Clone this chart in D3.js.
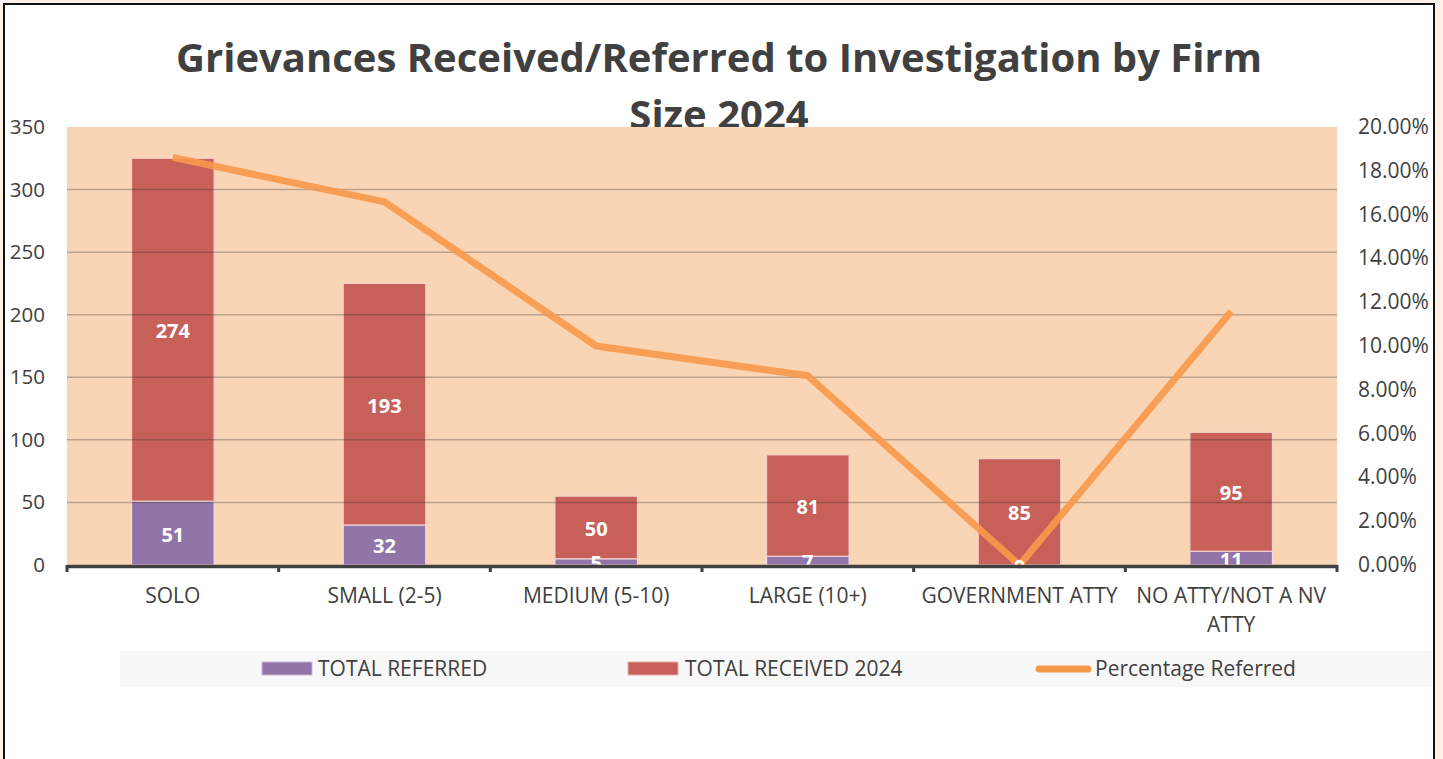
<!DOCTYPE html>
<html>
<head>
<meta charset="utf-8">
<script src="https://cdn.jsdelivr.net/npm/d3@7"></script>
<style>
  html, body { margin: 0; padding: 0; background: #fdf0e6; }
  svg { display: block; font-family: "Open Sans", sans-serif; }
</style>
</head>
<body>
<div id="chart"></div>
<script>
// data
var categories = ["SOLO", "SMALL (2-5)", "MEDIUM (5-10)", "LARGE (10+)", "GOVERNMENT ATTY", "NO ATTY/NOT A NV ATTY"];
var categoryLines = [["SOLO"], ["SMALL (2-5)"], ["MEDIUM (5-10)"], ["LARGE (10+)"], ["GOVERNMENT ATTY"], ["NO ATTY/NOT A NV", "ATTY"]];
var totalReferred = [51, 32, 5, 7, 0, 11];
var totalReceived = [274, 193, 50, 81, 85, 95];
var percentReferred = [0.1861, 0.1658, 0.10, 0.0864, 0, 0.1158];
var leftTicks = [0, 50, 100, 150, 200, 250, 300, 350];
var rightTicks = [0, 0.02, 0.04, 0.06, 0.08, 0.10, 0.12, 0.14, 0.16, 0.18, 0.20];

var W = 1443, H = 759;
var plot = { left: 67, right: 1337, top: 127, bottom: 565 };
var textColor = "#404040";
var purple = "#9174a8", red = "#c8605a", orange = "#f7994a";

var svg = d3.select("#chart").append("svg")
    .attr("width", W).attr("height", H);

// frame
svg.append("rect").attr("width", W).attr("height", H).attr("fill", "#fdf0e6");
svg.append("rect")
    .attr("x", 4).attr("y", 4).attr("width", 1430).attr("height", 800)
    .attr("fill", "#fff").attr("stroke", "#111").attr("stroke-width", 2);

var x = d3.scaleBand().domain(categories).range([plot.left, plot.right]).padding(0);
var y = d3.scaleLinear().domain([0, 350]).range([plot.bottom, plot.top]);
var yR = d3.scaleLinear().domain([0, 0.2]).range([plot.bottom, plot.top]);
var barW = x.bandwidth() * 0.39;

// title
var title = svg.append("text")
    .attr("text-anchor", "middle")
    .attr("font-size", 40).attr("font-weight", 700).attr("fill", textColor);
title.append("tspan").attr("x", 719).attr("y", 72).text("Grievances Received/Referred to Investigation by Firm");
title.append("tspan").attr("x", 719).attr("y", 129).text("Size 2024");

// plot background
svg.append("rect")
    .attr("x", plot.left).attr("y", plot.top)
    .attr("width", plot.right - plot.left).attr("height", plot.bottom - plot.top)
    .attr("fill", "#fad5b5");

// stacked bars
var bars = svg.append("g");
categories.forEach(function (c, i) {
    var bx = x(c) + x.bandwidth() / 2 - barW / 2;
    bars.append("rect")
        .attr("x", bx).attr("width", barW)
        .attr("y", y(totalReferred[i])).attr("height", y(0) - y(totalReferred[i]))
        .attr("fill", purple).attr("stroke", "#f3d9e0").attr("stroke-width", 1.2);
    bars.append("rect")
        .attr("x", bx).attr("width", barW)
        .attr("y", y(totalReferred[i] + totalReceived[i]))
        .attr("height", y(totalReferred[i]) - y(totalReferred[i] + totalReceived[i]))
        .attr("fill", red).attr("stroke", "#f3d0c8").attr("stroke-width", 1.2);
});

// gridlines (drawn over the bars, faint)
svg.append("g")
    .selectAll("line")
    .data(leftTicks.filter(function (d) { return d > 0 && d < 350; }))
    .join("line")
    .attr("x1", plot.left).attr("x2", plot.right)
    .attr("y1", function (d) { return y(d); }).attr("y2", function (d) { return y(d); })
    .attr("stroke", "#303030").attr("stroke-opacity", 0.3).attr("stroke-width", 1.5);

// percentage line
var line = d3.line()
    .x(function (d, i) { return x(categories[i]) + x.bandwidth() / 2; })
    .y(function (d) { return yR(d); });
svg.append("path")
    .datum(percentReferred)
    .attr("d", line)
    .attr("fill", "none").attr("stroke", orange).attr("stroke-opacity", 0.9)
    .attr("stroke-width", 7).attr("stroke-linejoin", "round");

// data labels
var labels = svg.append("g")
    .attr("text-anchor", "middle").attr("font-size", 20).attr("font-weight", 700)
    .attr("fill", "#fff").attr("dominant-baseline", "central");
categories.forEach(function (c, i) {
    var cx = x(c) + x.bandwidth() / 2;
    labels.append("text").attr("x", cx)
        .attr("y", (y(0) + y(totalReferred[i])) / 2 + 1)
        .text(totalReferred[i]);
    labels.append("text").attr("x", cx)
        .attr("y", (y(totalReferred[i]) + y(totalReferred[i] + totalReceived[i])) / 2 + 1)
        .text(totalReceived[i]);
});

// x axis line and ticks
var xAxis = d3.axisBottom(x).tickValues([]).tickSizeOuter(0);
svg.append("g")
    .attr("transform", "translate(0," + (plot.bottom + 1) + ")")
    .call(xAxis)
    .call(function (g) { g.select(".domain").attr("stroke", textColor).attr("stroke-width", 3.5); });
var bounds = categories.map(function (c) { return x(c); }).concat([plot.right]);
svg.append("g").selectAll("line").data(bounds).join("line")
    .attr("x1", function (d) { return d; }).attr("x2", function (d) { return d; })
    .attr("y1", plot.bottom).attr("y2", plot.bottom + 7)
    .attr("stroke", textColor).attr("stroke-width", 3);

// category labels
var xl = svg.append("g").attr("text-anchor", "middle").attr("font-size", 21).attr("fill", textColor);
categories.forEach(function (c, i) {
    var t = xl.append("text");
    categoryLines[i].forEach(function (s, k) {
        t.append("tspan").attr("x", x(c) + x.bandwidth() / 2).attr("y", 603 + k * 29).text(s);
    });
});

// left axis labels
svg.append("g").selectAll("text").data(leftTicks).join("text")
    .attr("x", 45).attr("y", function (d) { return y(d) + 7; })
    .attr("text-anchor", "end").attr("font-size", 20.5).attr("fill", textColor)
    .text(function (d) { return d; });

// right axis labels
svg.append("g").selectAll("text").data(rightTicks).join("text")
    .attr("x", 1358).attr("y", function (d) { return yR(d) + 7; })
    .attr("text-anchor", "start").attr("font-size", 21).attr("fill", textColor)
    .text(function (d) { return (d * 100).toFixed(2) + "%"; });

// legend
svg.append("rect").attr("x", 120).attr("y", 651).attr("width", 1312).attr("height", 36).attr("fill", "#f8f8f8");
var legend = svg.append("g").attr("font-size", 21).attr("fill", textColor);
legend.append("rect").attr("x", 262).attr("y", 662).attr("width", 50).attr("height", 13)
    .attr("fill", purple).attr("stroke", "#c8b4d8").attr("stroke-width", 1);
legend.append("text").attr("x", 318).attr("y", 676).text("TOTAL REFERRED");
legend.append("rect").attr("x", 628).attr("y", 662).attr("width", 50).attr("height", 13)
    .attr("fill", red).attr("stroke", "#e8b0a8").attr("stroke-width", 1);
legend.append("text").attr("x", 685).attr("y", 676).text("TOTAL RECEIVED 2024");
legend.append("line").attr("x1", 1039).attr("x2", 1088).attr("y1", 669).attr("y2", 669)
    .attr("stroke", orange).attr("stroke-width", 7).attr("stroke-linecap", "round");
legend.append("text").attr("x", 1095).attr("y", 676).text("Percentage Referred");
</script>
</body>
</html>
